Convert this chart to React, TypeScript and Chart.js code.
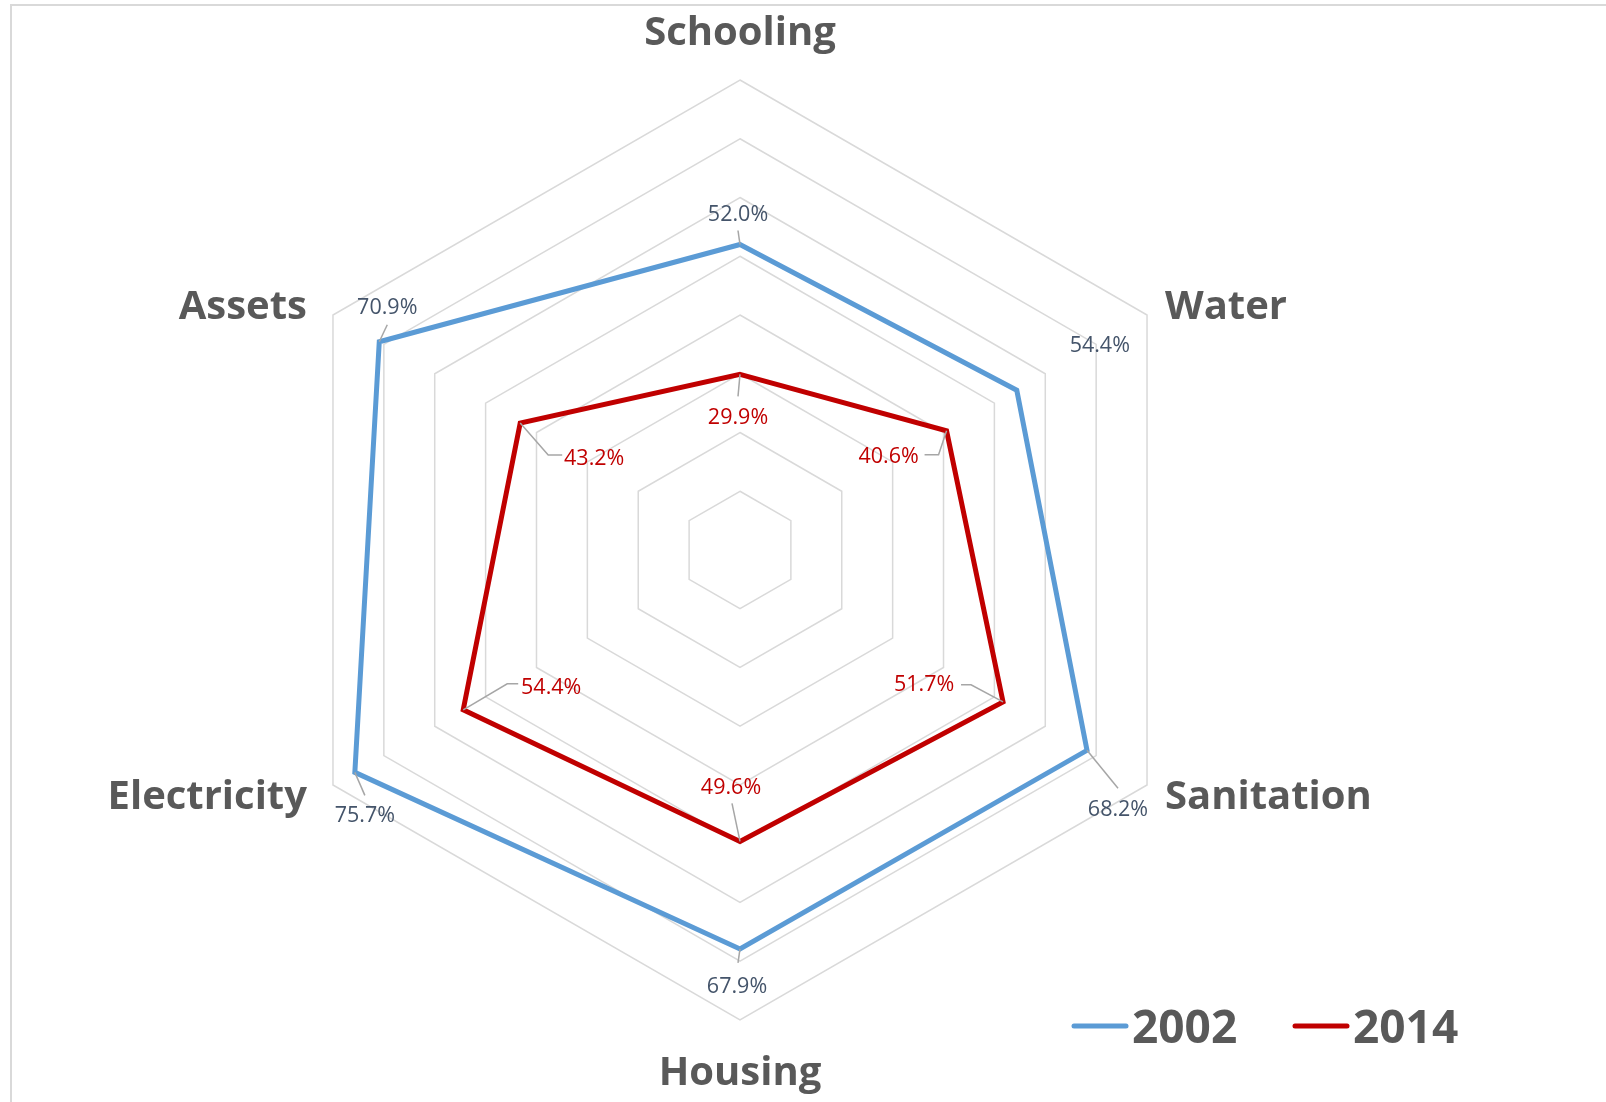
import React, { useEffect, useRef } from "react";
import { Chart, registerables } from "chart.js";

Chart.register(...registerables);

// ---- data ----
const categories = ["Schooling", "Water", "Sanitation", "Housing", "Electricity", "Assets"];
const seriesNames = ["2002", "2014"];
const values2002 = [52.0, 54.4, 68.2, 67.9, 75.7, 70.9];
const values2014 = [29.9, 40.6, 51.7, 49.6, 54.4, 43.2];
const scaleMin = 0;
const scaleMax = 80;
const scaleStep = 10;

// ---- styles ----
const COLORS = ["#5B9BD5", "#C00000"];
const LABEL_COLORS = ["#44546A", "#C00000"];
const AXIS_LABEL_COLOR = "#595959";
const GRID_COLOR = "#D9D9D9";
const LEADER_COLOR = "#A6A6A6";
const FONT = "'Open Sans', 'Liberation Sans', sans-serif";

type Pt = [number, number];
type LabelLayout = { dx: number; dy: number; leader?: Pt[] };

// offsets of each data label relative to its point
const LAYOUT_2002: LabelLayout[] = [
  { dx: -2, dy: -31, leader: [[-2, -14]] },
  { dx: 83, dy: -45 },
  { dx: 31, dy: 59, leader: [[31, 38]] },
  { dx: -3, dy: 37, leader: [[-2, 14]] },
  { dx: 10, dy: 43, leader: [[10, 23]] },
  { dx: 8, dy: -35, leader: [[8, -17]] },
];
const LAYOUT_2014: LabelLayout[] = [
  { dx: -2, dy: 43, leader: [[-2, 22]] },
  { dx: -58, dy: 25, leader: [[-8, 24], [-22, 24]] },
  { dx: -79, dy: -18, leader: [[-32, -17], [-42, -17]] },
  { dx: -9, dy: -55, leader: [[-8, -38]] },
  { dx: 88, dy: -23, leader: [[44, -26], [55, -26]] },
  { dx: 74, dy: 35, leader: [[28, 32], [42, 32]] },
];
const LAYOUTS = [LAYOUT_2002, LAYOUT_2014];

const framePlugin = {
  id: "frame",
  beforeDraw(chart: any) {
    const ctx = chart.ctx;
    ctx.save();
    ctx.fillStyle = "#FFFFFF";
    ctx.fillRect(0, 0, chart.width, chart.height);
    ctx.strokeStyle = GRID_COLOR;
    ctx.lineWidth = 2;
    ctx.strokeRect(11, 5, chart.width + 100, chart.height + 100);
    ctx.restore();
  },
};

const axisLabelPlugin = {
  id: "axisLabels",
  afterDraw(chart: any) {
    const scale = chart.scales.r;
    const ctx = chart.ctx;
    ctx.save();
    ctx.fillStyle = AXIS_LABEL_COLOR;
    ctx.font = `bold 40px ${FONT}`;
    ctx.textBaseline = "middle";
    const labels: string[] = chart.data.labels;
    labels.forEach((lab, i) => {
      const p = scale.getPointPosition(i, scale.drawingArea);
      const ddx = p.x - scale.xCenter;
      const ddy = p.y - scale.yCenter;
      let x = p.x;
      let y = p.y + 3;
      if (Math.abs(ddx) < 2) {
        ctx.textAlign = "center";
        y += ddy < 0 ? -49 : 51;
      } else if (ddx > 0) {
        ctx.textAlign = "left";
        x += 18;
        y += ddy < 0 ? -10 : 10;
      } else {
        ctx.textAlign = "right";
        x -= 26;
        y += ddy < 0 ? -10 : 10;
      }
      ctx.fillText(lab, x, y);
    });
    ctx.restore();
  },
};

const dataLabelPlugin = {
  id: "dataLabels",
  afterDatasetsDraw(chart: any) {
    const ctx = chart.ctx;
    ctx.save();
    chart.data.datasets.forEach((ds: any, d: number) => {
      const meta = chart.getDatasetMeta(d);
      const layout = LAYOUTS[d];
      meta.data.forEach((el: any, i: number) => {
        const L = layout[i];
        if (L.leader) {
          ctx.strokeStyle = LEADER_COLOR;
          ctx.lineWidth = 1.5;
          ctx.beginPath();
          ctx.moveTo(el.x, el.y);
          L.leader.forEach(([lx, ly]) => ctx.lineTo(el.x + lx, el.y + ly));
          ctx.stroke();
        }
      });
      ctx.fillStyle = LABEL_COLORS[d];
      ctx.font = `21.5px ${FONT}`;
      ctx.textAlign = "center";
      ctx.textBaseline = "middle";
      meta.data.forEach((el: any, i: number) => {
        const L = layout[i];
        ctx.fillText(ds.data[i].toFixed(1) + "%", el.x + L.dx, el.y + L.dy + 1);
      });
    });
    ctx.restore();
  },
};

const legendPlugin = {
  id: "customLegend",
  afterDraw(chart: any) {
    const ctx = chart.ctx;
    ctx.save();
    ctx.font = `bold 46px ${FONT}`;
    ctx.textAlign = "left";
    ctx.textBaseline = "alphabetic";
    const starts = [1072, 1293];
    chart.data.datasets.forEach((ds: any, d: number) => {
      const x0 = starts[d];
      ctx.strokeStyle = ds.borderColor;
      ctx.lineWidth = 5;
      ctx.lineCap = "round";
      ctx.beginPath();
      ctx.moveTo(x0 + 2, 1026);
      ctx.lineTo(x0 + 54, 1026);
      ctx.stroke();
      ctx.fillStyle = AXIS_LABEL_COLOR;
      ctx.fillText(ds.label, x0 + 60, 1043);
    });
    ctx.restore();
  },
};

export default function App() {
  const ref = useRef<HTMLCanvasElement | null>(null);
  useEffect(() => {
    if (!ref.current) return;
    const chart = new Chart(ref.current, {
      type: "radar",
      data: {
        labels: categories,
        datasets: [
          {
            label: seriesNames[0],
            data: values2002,
            borderColor: COLORS[0],
            backgroundColor: "transparent",
            borderWidth: 5,
            pointRadius: 0,
            fill: false,
          },
          {
            label: seriesNames[1],
            data: values2014,
            borderColor: COLORS[1],
            backgroundColor: "transparent",
            borderWidth: 5,
            pointRadius: 0,
            fill: false,
          },
        ],
      },
      options: {
        responsive: false,
        animation: false,
        devicePixelRatio: 1,
        layout: { padding: { left: 270, right: 396, top: 80, bottom: 82 } },
        plugins: {
          legend: { display: false },
          tooltip: { enabled: false },
        },
        elements: { line: { tension: 0, borderJoinStyle: "miter" } },
        scales: {
          r: {
            min: scaleMin,
            max: scaleMax,
            ticks: { stepSize: scaleStep, display: false },
            grid: { color: GRID_COLOR, lineWidth: 1.5 },
            angleLines: { display: false },
            pointLabels: { display: false },
          },
        },
      },
      plugins: [framePlugin, dataLabelPlugin, axisLabelPlugin, legendPlugin],
    });
    return () => chart.destroy();
  }, []);
  return (
    <div style={{ position: "fixed", left: 0, top: 0, width: 1606, height: 1102 }}>
      <canvas ref={ref} width={1606} height={1102} style={{ display: "block" }} />
    </div>
  );
}
